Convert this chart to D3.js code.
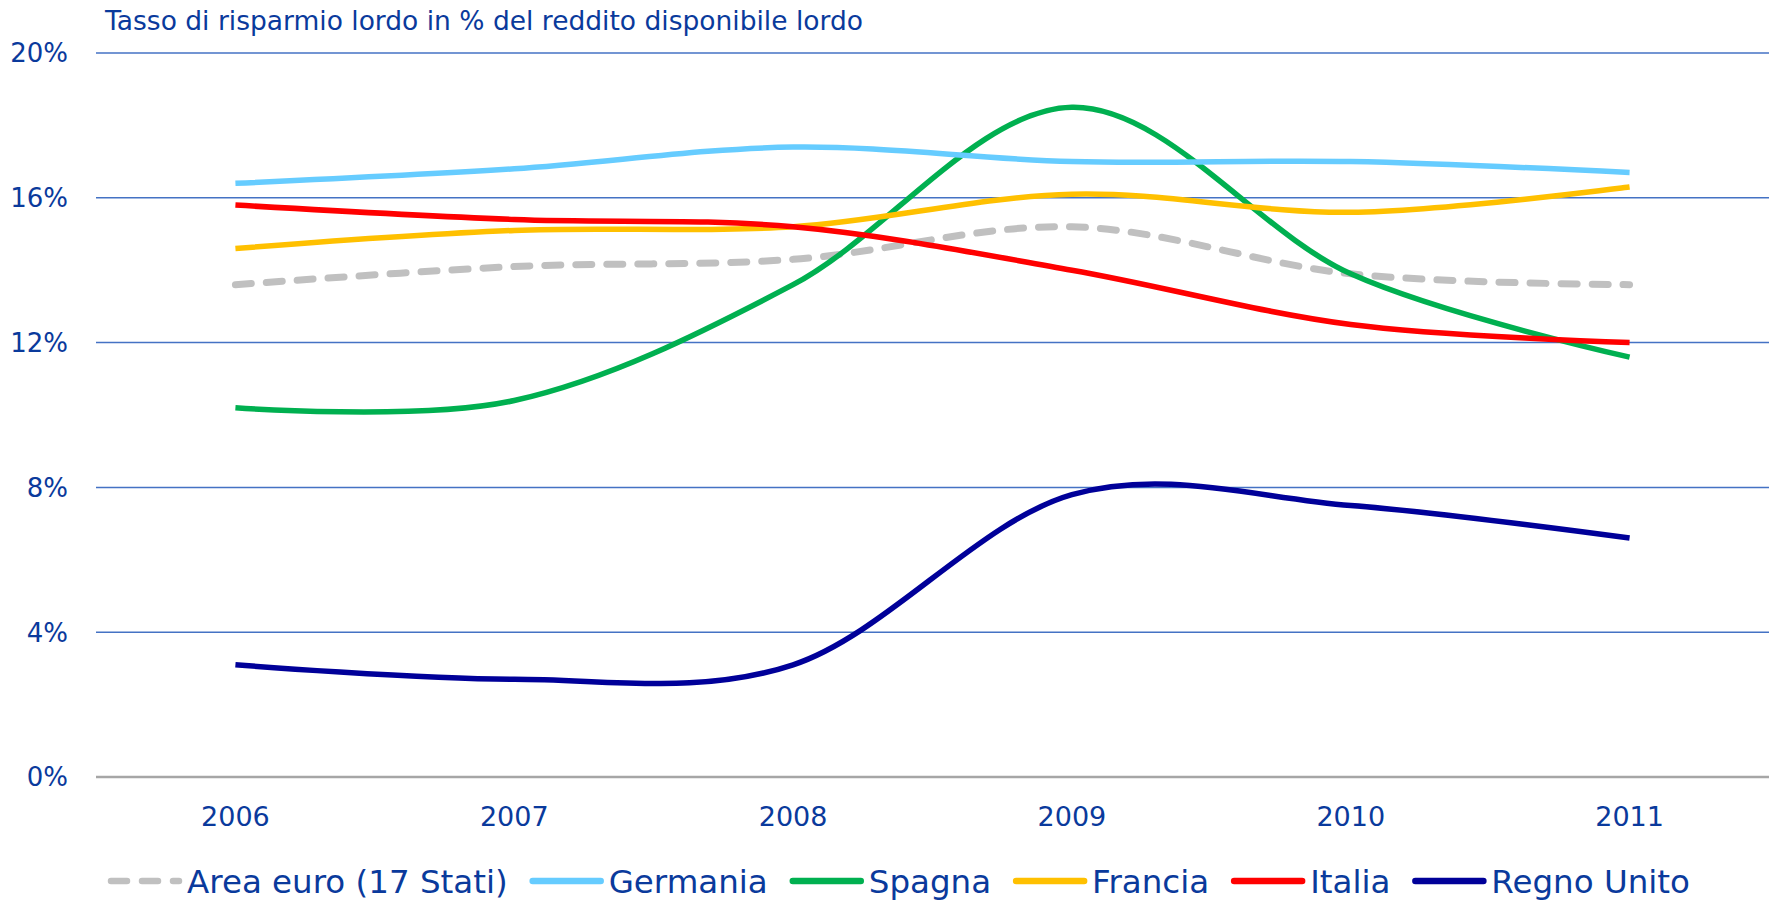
<!DOCTYPE html>
<html>
<head>
<meta charset="utf-8">
<script src="https://cdn.jsdelivr.net/npm/d3@7"></script>
<style>
  body { margin: 0; background: #fff; }
  svg text { font-family: "DejaVu Sans", sans-serif; fill: #0a3a9c; }
</style>
</head>
<body>
<div id="chart"></div>
<script>
// data
var years = ["2006", "2007", "2008", "2009", "2010", "2011"];
var yTicks = [0, 4, 8, 12, 16, 20];

var areaEuro   = [13.6, 14.1, 14.3, 15.2, 13.9, 13.6];
var germania   = [16.4, 16.8, 17.4, 17.0, 17.0, 16.7];
var spagna     = [10.2, 10.4, 13.6, 18.5, 13.9, 11.6];
var francia    = [14.6, 15.1, 15.2, 16.1, 15.6, 16.3];
var italia     = [15.8, 15.4, 15.2, 14.0, 12.5, 12.0];
var regnoUnito = [3.1, 2.7, 3.1, 7.8, 7.5, 6.6];

var series = [
  { name: "Area euro (17 Stati)", values: areaEuro,   color: "#c0c0c0", dash: true },
  { name: "Germania",             values: germania,   color: "#66ccff" },
  { name: "Spagna",               values: spagna,     color: "#00b050" },
  { name: "Francia",              values: francia,    color: "#ffc000" },
  { name: "Italia",               values: italia,     color: "#ff0000" },
  { name: "Regno Unito",          values: regnoUnito, color: "#000099" }
];
// draw order (later ones on top)
var drawOrder = [0, 2, 1, 3, 4, 5];

var width = 1769,
    height = 902;

var svg = d3.select("#chart")
    .append("svg")
    .attr("width", width)
    .attr("height", height);

var x = d3.scalePoint()
    .domain(years)
    .range([96, 1769])
    .padding(0.5);

var y = d3.scaleLinear()
    .domain([0, 20])
    .range([777, 53]);

// title
svg.append("text")
    .attr("x", 105)
    .attr("y", 30)
    .style("font-size", "26.5px")
    .text("Tasso di risparmio lordo in % del reddito disponibile lordo");

// gridlines
svg.append("g")
    .selectAll("line")
    .data(yTicks)
    .enter()
    .append("line")
    .attr("x1", 96)
    .attr("x2", width)
    .attr("y1", (d) => y(d))
    .attr("y2", (d) => y(d))
    .attr("stroke", (d) => d === 0 ? "#a6a6a6" : "#4472c4")
    .attr("stroke-width", (d) => d === 0 ? 2.5 : 1.5);

// y labels
svg.append("g")
    .selectAll("text")
    .data(yTicks)
    .enter()
    .append("text")
    .attr("x", 68)
    .attr("y", (d) => y(d))
    .attr("dy", "0.36em")
    .attr("text-anchor", "end")
    .style("font-size", "26px")
    .text((d) => d + "%");

// x labels
svg.append("g")
    .selectAll("text")
    .data(years)
    .enter()
    .append("text")
    .attr("x", (d) => x(d))
    .attr("y", 816)
    .attr("dy", "0.36em")
    .attr("text-anchor", "middle")
    .style("font-size", "27px")
    .text((d) => d);

// lines
var line = d3.line()
    .x((d, i) => x(years[i]))
    .y((d) => y(d))
    .curve(d3.curveCardinal.tension(0));

svg.append("g")
    .selectAll("path")
    .data(drawOrder.map((i) => series[i]))
    .enter()
    .append("path")
    .attr("d", (d) => line(d.values))
    .attr("fill", "none")
    .attr("stroke", (d) => d.color)
    .attr("stroke-width", (d) => d.dash ? 7 : 5.5)
    .attr("stroke-linecap", (d) => d.dash ? "round" : "butt")
    .attr("stroke-dasharray", (d) => d.dash ? "16 15" : null);

// legend
var legend = svg.append("g");
var lx = 108,
    ly = 881;
series.forEach(function (s) {
    legend.append("line")
        .attr("x1", lx + 3)
        .attr("x2", lx + 71)
        .attr("y1", ly)
        .attr("y2", ly)
        .attr("stroke", s.color)
        .attr("stroke-width", 6.5)
        .attr("stroke-linecap", "round")
        .attr("stroke-dasharray", s.dash ? "16 15" : null);
    var t = legend.append("text")
        .attr("x", lx + 79)
        .attr("y", ly)
        .attr("dy", "0.36em")
        .style("font-size", "32.5px")
        .text(s.name);
    lx += 79 + t.node().getComputedTextLength() + 22;
});
</script>
</body>
</html>
